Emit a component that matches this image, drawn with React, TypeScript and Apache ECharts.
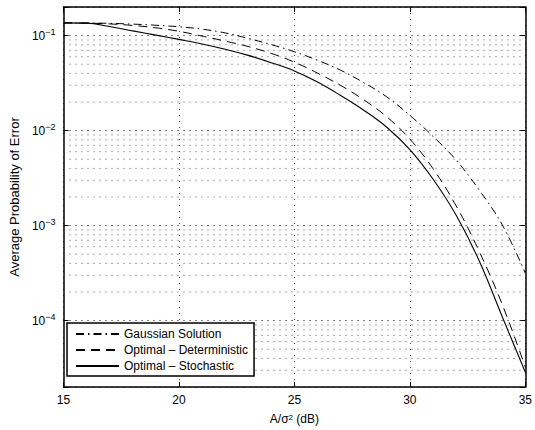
import React, { useEffect, useRef } from "react";
import * as echarts from "echarts";

const snr = [15, 16, 17, 18, 19, 20, 21, 22, 23, 24, 25, 26, 27, 28, 29, 30, 31, 32, 33, 34, 35];

const gaussian = [0.1361, 0.1358, 0.1346, 0.1321, 0.1285, 0.1239, 0.1169, 0.1067, 0.0933, 0.0804, 0.0676, 0.055, 0.0432, 0.032, 0.02265, 0.01445, 0.00871, 0.0049, 0.00237, 0.00102, 0.000316];

const deterministic = [0.1361, 0.1352, 0.1327, 0.1279, 0.1208, 0.1109, 0.0989, 0.0875, 0.0767, 0.0649, 0.0525, 0.0403, 0.0299, 0.0211, 0.01396, 0.00813, 0.00398, 0.00162, 0.000537, 0.000148, 0.0000324];

const stochastic = [0.1361, 0.1352, 0.1245, 0.1122, 0.1012, 0.0912, 0.0817, 0.0719, 0.0619, 0.0519, 0.0424, 0.0324, 0.0234, 0.0164, 0.01084, 0.00631, 0.00309, 0.00129, 0.000427, 0.00011, 0.0000286];

const seriesNames = ["Gaussian Solution", "Optimal \u2013 Deterministic", "Optimal \u2013 Stochastic"];

const xTicks = [15, 20, 25, 30, 35];
const yMin = 0.00002;
const yMax = 0.2;

const FONT = "'Liberation Sans', Arial, Helvetica, sans-serif";

export default function App() {
  const ref = useRef<HTMLDivElement>(null);

  useEffect(() => {
    if (!ref.current) return;
    const chart = echarts.init(ref.current, undefined, { renderer: "svg" });

    const xLo = xTicks[0];
    const xHi = xTicks[xTicks.length - 1];

    const minorValues: number[] = [];
    for (let e = -5; e <= -1; e++) {
      for (let m = 2; m <= 9; m++) {
        const v = m * Math.pow(10, e);
        if (v > yMin * 1.001 && v < yMax * 0.999) minorValues.push(v);
      }
    }

    const minorSeries = minorValues.map((v) => ({
      type: "line",
      data: [
        [xLo, v],
        [xHi, v],
      ],
      symbol: "none",
      showSymbol: false,
      silent: true,
      legendHoverLink: false,
      lineStyle: { color: "#555", type: [1, 5], width: 1 },
      emphasis: { disabled: true },
      z: 1,
    }));

    const pair = (arr: number[]) => snr.map((x, i) => [x, arr[i]]);

    const supFormatter = (v: number) => {
      const lg = Math.log10(v);
      const e = Math.round(lg);
      if (Math.abs(lg - e) > 1e-6) return "";
      return `{b|10}{s|${e < 0 ? "\u2212" + Math.abs(e) : e}}`;
    };

    const axisLine = { show: true, lineStyle: { color: "#000", width: 1.5 } };
    const tick = { show: true, inside: true, length: 5, lineStyle: { color: "#000", width: 1 } };

    chart.setOption({
      animation: false,
      backgroundColor: "#fff",
      textStyle: { fontFamily: FONT },
      grid: { left: 60, right: 8, top: 7, bottom: 43, containLabel: false },
      legend: {
        orient: "vertical",
        left: 67,
        top: 323,
        data: seriesNames,
        itemWidth: 43,
        itemHeight: 13,
        itemGap: 4,
        padding: [5, 6, 4, 8],
        backgroundColor: "#fff",
        borderColor: "#000",
        borderWidth: 1.5,
        borderRadius: 0,
        selectedMode: false,
        itemStyle: { color: "rgba(0,0,0,0)", borderColor: "rgba(0,0,0,0)", borderWidth: 0 },
        textStyle: { fontFamily: FONT, fontSize: 12, color: "#000" },
      },
      xAxis: [
        {
          type: "value",
          min: xLo,
          max: xHi,
          interval: 5,
          name: "A/\u03c3{s|2} (dB)",
          nameLocation: "middle",
          nameGap: 26,
          nameTextStyle: {
            fontFamily: FONT,
            fontSize: 12,
            color: "#000",
            rich: {
              s: { fontSize: 8, verticalAlign: "top", lineHeight: 8, fontFamily: FONT, color: "#000" },
            },
          },
          axisLine,
          axisTick: tick,
          axisLabel: { show: true, margin: 7, fontSize: 12, color: "#000", fontFamily: FONT },
          splitLine: { show: true, lineStyle: { color: "#444", type: [1, 5], width: 1 } },
        },
        {
          type: "value",
          position: "top",
          min: xLo,
          max: xHi,
          interval: 5,
          axisLine,
          axisTick: tick,
          axisLabel: { show: false },
          splitLine: { show: false },
        },
      ],
      yAxis: [
        {
          type: "log",
          logBase: 10,
          min: yMin,
          max: yMax,
          name: "Average Probability of Error",
          nameLocation: "middle",
          nameGap: 39,
          nameTextStyle: { fontFamily: FONT, fontSize: 13, color: "#000" },
          axisLine,
          axisTick: tick,
          axisLabel: {
            show: true,
            margin: 8,
            formatter: supFormatter,
            rich: {
              b: { fontSize: 12, color: "#000", fontFamily: FONT, lineHeight: 16 },
              s: { fontSize: 9, color: "#000", fontFamily: FONT, verticalAlign: "top", lineHeight: 9 },
            },
          },
          splitLine: { show: true, lineStyle: { color: "#000", type: [1, 5], width: 1 } },
        },
        {
          type: "log",
          logBase: 10,
          min: yMin,
          max: yMax,
          position: "right",
          axisLine,
          axisTick: tick,
          axisLabel: { show: false },
          splitLine: { show: false },
        },
      ],
      series: [
        ...minorSeries,
        {
          name: seriesNames[0],
          type: "line",
          data: pair(gaussian),
          showSymbol: false,
          symbol: "none",
          smooth: 0.4,
          lineStyle: { color: "#000", width: 1, type: [8, 4, 1.5, 4] },
          itemStyle: { color: "#000" },
          z: 3,
        },
        {
          name: seriesNames[1],
          type: "line",
          data: pair(deterministic),
          showSymbol: false,
          symbol: "none",
          smooth: 0.4,
          lineStyle: { color: "#000", width: 1, type: [9, 6] },
          itemStyle: { color: "#000" },
          z: 3,
        },
        {
          name: seriesNames[2],
          type: "line",
          data: pair(stochastic),
          showSymbol: false,
          symbol: "none",
          smooth: 0.4,
          lineStyle: { color: "#000", width: 1.1, type: "solid" },
          itemStyle: { color: "#000" },
          z: 3,
        },
      ],
    });

    return () => chart.dispose();
  }, []);

  return (
    <div
      ref={ref}
      style={{ position: "fixed", left: 0, top: 0, width: 535, height: 430, background: "#fff" }}
    />
  );
}
